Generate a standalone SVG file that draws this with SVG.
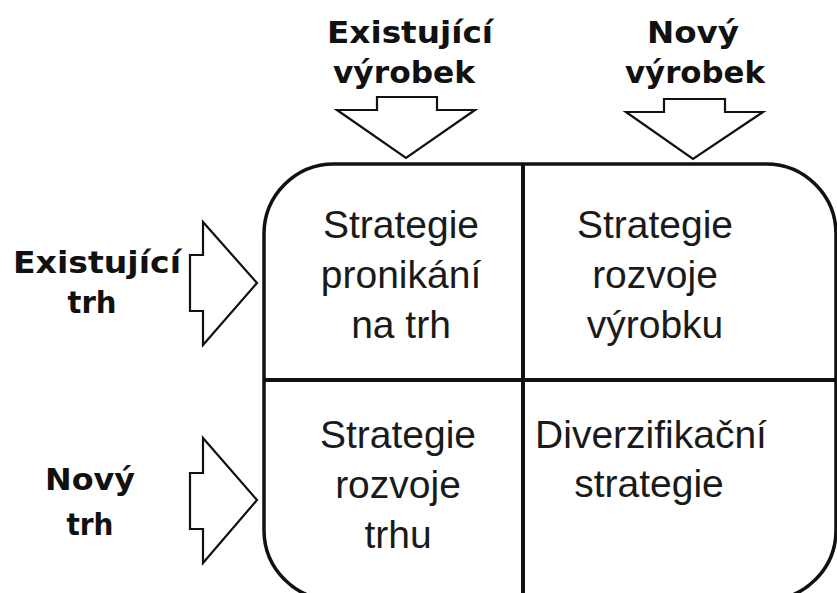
<svg xmlns="http://www.w3.org/2000/svg" width="837" height="593" viewBox="0 0 837 593">
<style>
.lbl{font-family:"DejaVu Sans","Liberation Sans",sans-serif;font-weight:bold;font-size:30px;fill:#111;text-anchor:middle}
.cell{font-family:"Liberation Sans",Arial,sans-serif;font-size:39px;fill:#1a1a1a;text-anchor:middle}
.arrow{fill:#fff;stroke:#111;stroke-width:2.2;stroke-linejoin:miter}
.frame{fill:#fff;stroke:#111;stroke-width:3.5}
.div{stroke:#111;stroke-width:4}
</style>
<rect width="837" height="593" fill="#fff"/>
<g id="matrix">
<path class="frame" d="M334,164 H766 A70,70 0 0 1 836,234 V530 A70,70 0 0 1 766,600 H334 A70,70 0 0 1 264,530 V234 A70,70 0 0 1 334,164 Z"/>
<line class="div" x1="523" y1="164" x2="523" y2="600"/>
<line class="div" x1="264" y1="380" x2="836" y2="380"/>
</g>
<g id="cell-penetration">
<text class="cell" x="401" y="238">Strategie</text>
<text class="cell" x="401" y="288">pronikání</text>
<text class="cell" x="401" y="338">na trh</text>
</g>
<g id="cell-product">
<text class="cell" x="655" y="238">Strategie</text>
<text class="cell" x="655" y="288">rozvoje</text>
<text class="cell" x="655" y="338">výrobku</text>
</g>
<g id="cell-market">
<text class="cell" x="398" y="448">Strategie</text>
<text class="cell" x="398" y="498">rozvoje</text>
<text class="cell" x="398" y="548">trhu</text>
</g>
<g id="cell-diversification">
<text class="cell" x="651" y="448">Diverzifikační</text>
<text class="cell" x="649" y="497">strategie</text>
</g>
<g id="label-existing-product">
<text class="lbl" x="410" y="43" textLength="166" lengthAdjust="spacingAndGlyphs">Existující</text>
<text class="lbl" x="404" y="83" textLength="142" lengthAdjust="spacingAndGlyphs">výrobek</text>
</g>
<g id="label-new-product">
<text class="lbl" x="693" y="43" textLength="92" lengthAdjust="spacingAndGlyphs">Nový</text>
<text class="lbl" x="695" y="83" textLength="140" lengthAdjust="spacingAndGlyphs">výrobek</text>
</g>
<g id="label-existing-market">
<text class="lbl" x="97" y="273" textLength="168" lengthAdjust="spacingAndGlyphs">Existující</text>
<text class="lbl" x="92" y="313" textLength="49" lengthAdjust="spacingAndGlyphs">trh</text>
</g>
<g id="label-new-market">
<text class="lbl" x="90" y="490" textLength="90" lengthAdjust="spacingAndGlyphs">Nový</text>
<text class="lbl" x="90" y="535" textLength="47" lengthAdjust="spacingAndGlyphs">trh</text>
</g>
<g id="connectors">
<polygon class="arrow" points="377,97 437,97 437,110 475,110 406,158 337,110 377,110"/>
<polygon class="arrow" points="664,99 725,99 725,112 763,112 693,159 626,112 664,112"/>
<polygon class="arrow" points="190,255 203,255 203,222 257,283 203,345 203,311 190,311"/>
<polygon class="arrow" points="190,473 203,473 203,438 257,500 203,563 203,529 190,529"/>
</g>
</svg>
